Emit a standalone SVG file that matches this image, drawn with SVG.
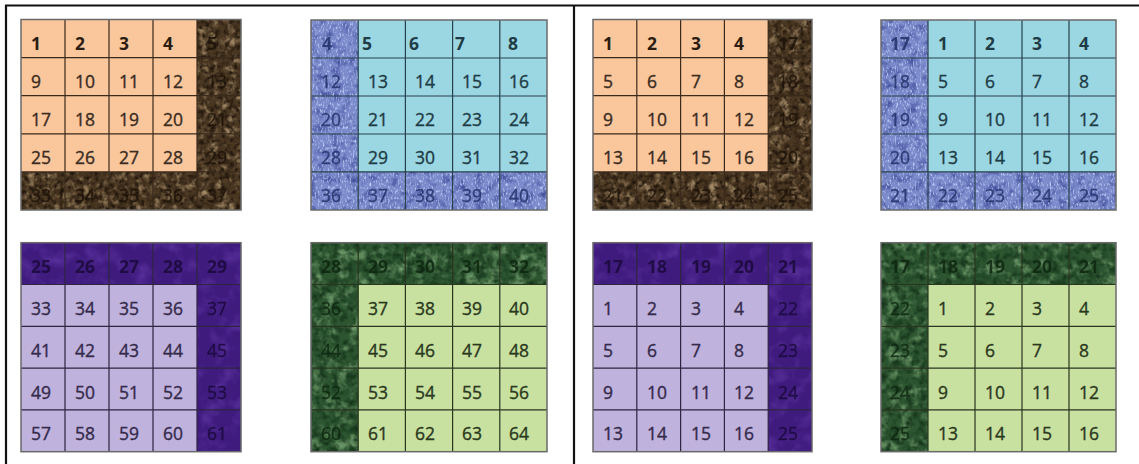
<svg xmlns="http://www.w3.org/2000/svg" width="1139" height="464" viewBox="0 0 1139 464">
<defs>
<style>
text{font-family:"Open Sans","Liberation Sans",sans-serif;font-size:17.5px;stroke-width:0.35px}
.b{font-weight:bold;stroke-width:0}
.frame{stroke:#111;stroke-width:2.2;fill:none}
.gl{fill:none;stroke-width:1.2}
.ob{fill:none;stroke:#6a6a6a;stroke-width:1.5}
.to{fill:#3a2c1f;stroke:#3a2c1f}.tbo{fill:#2a1c10}.dbr{fill:#1c1209;stroke:#1c1209;opacity:.85}
.tb{fill:#1f3c46;stroke:#1f3c46}.dbl{fill:#27356e;stroke:#27356e;opacity:.9}
.tp{fill:#352a4a;stroke:#352a4a}.dpu{fill:#1a0a3a;stroke:#1a0a3a;opacity:.85}
.tg{fill:#2b381d;stroke:#2b381d}.dgr{fill:#0e2610;stroke:#0e2610;opacity:.85}
</style>
<filter id="fBrown" x="0" y="0" width="1" height="1" color-interpolation-filters="sRGB">
<feTurbulence type="fractalNoise" baseFrequency="0.11" numOctaves="3" seed="4" result="n"/>
<feColorMatrix in="n" type="matrix" values="0 0 0 0 0.64  0 0 0 0 0.54  0 0 0 0 0.40  2.8 0 0 0 -1.3" result="c"/>
<feComposite in="c" in2="SourceGraphic" operator="in" result="cc"/>
<feTurbulence type="fractalNoise" baseFrequency="0.2" numOctaves="2" seed="9" result="n2"/>
<feColorMatrix in="n2" type="matrix" values="0 0 0 0 0.12  0 0 0 0 0.08  0 0 0 0 0.04  2.6 0 0 0 -1.1" result="d"/>
<feComposite in="d" in2="SourceGraphic" operator="in" result="dd"/>
<feMerge><feMergeNode in="SourceGraphic"/><feMergeNode in="cc"/><feMergeNode in="dd"/></feMerge>
</filter>
<filter id="fBlue" x="0" y="0" width="1" height="1" color-interpolation-filters="sRGB">
<feTurbulence type="fractalNoise" baseFrequency="0.6 0.3" numOctaves="2" seed="3" result="n"/>
<feColorMatrix in="n" type="matrix" values="0 0 0 0 0.82  0 0 0 0 0.86  0 0 0 0 1  2.6 0 0 0 -1.35" result="c"/>
<feComposite in="c" in2="SourceGraphic" operator="in" result="cc"/>
<feTurbulence type="fractalNoise" baseFrequency="0.12" numOctaves="2" seed="11" result="n2"/>
<feColorMatrix in="n2" type="matrix" values="0 0 0 0 0.25  0 0 0 0 0.3  0 0 0 0 0.6  2.2 0 0 0 -1" result="d"/>
<feComposite in="d" in2="SourceGraphic" operator="in" result="dd"/>
<feMerge><feMergeNode in="SourceGraphic"/><feMergeNode in="dd"/><feMergeNode in="cc"/></feMerge>
</filter>
<filter id="fPurple" x="0" y="0" width="1" height="1" color-interpolation-filters="sRGB">
<feTurbulence type="fractalNoise" baseFrequency="0.06" numOctaves="3" seed="5" result="n"/>
<feColorMatrix in="n" type="matrix" values="0 0 0 0 0.36  0 0 0 0 0.2  0 0 0 0 0.62  2 0 0 0 -0.9" result="c"/>
<feComposite in="c" in2="SourceGraphic" operator="in" result="cc"/>
<feMerge><feMergeNode in="SourceGraphic"/><feMergeNode in="cc"/></feMerge>
</filter>
<filter id="fGreen" x="0" y="0" width="1" height="1" color-interpolation-filters="sRGB">
<feTurbulence type="fractalNoise" baseFrequency="0.08" numOctaves="4" seed="7" result="n"/>
<feColorMatrix in="n" type="matrix" values="0 0 0 0 0.45  0 0 0 0 0.62  0 0 0 0 0.43  2.8 0 0 0 -1.3" result="c"/>
<feComposite in="c" in2="SourceGraphic" operator="in" result="cc"/>
<feTurbulence type="fractalNoise" baseFrequency="0.15" numOctaves="2" seed="13" result="n2"/>
<feColorMatrix in="n2" type="matrix" values="0 0 0 0 0.08  0 0 0 0 0.2  0 0 0 0 0.1  2.4 0 0 0 -1" result="d"/>
<feComposite in="d" in2="SourceGraphic" operator="in" result="dd"/>
<feMerge><feMergeNode in="SourceGraphic"/><feMergeNode in="cc"/><feMergeNode in="dd"/></feMerge>
</filter>
</defs>
<rect width="1139" height="464" fill="#ffffff"/>
<g id="frame">
<path class="frame" d="M6,464 V5.5 H1139 M574,5.5 V464"/>
</g>
<g id="grid1">
<rect x="21" y="19.5" width="220" height="190.5" fill="#FAC79D"/>
<path d="M197,19.5 H241 V210 H21 V171.9 H197 Z" fill="#4a3722" filter="url(#fBrown)"/>
<path class="gl" stroke="#3a2a1c" d="M65,19.5V210M109,19.5V210M153,19.5V210M197,19.5V210M21,57.6H241M21,95.7H241M21,133.8H241M21,171.9H241"/>
<rect class="ob" x="21" y="19.5" width="220" height="190.5"/>
<text class="b tbo" x="31" y="49.5">1</text><text class="b tbo" x="75" y="49.5">2</text><text class="b tbo" x="119" y="49.5">3</text><text class="b tbo" x="163" y="49.5">4</text><text class="b dbr" x="207" y="49.5">5</text>
<text class="to" x="31" y="87.6">9</text><text class="to" x="75" y="87.6">10</text><text class="to" x="119" y="87.6">11</text><text class="to" x="163" y="87.6">12</text><text class="dbr" x="207" y="87.6">13</text>
<text class="to" x="31" y="125.7">17</text><text class="to" x="75" y="125.7">18</text><text class="to" x="119" y="125.7">19</text><text class="to" x="163" y="125.7">20</text><text class="dbr" x="207" y="125.7">21</text>
<text class="to" x="31" y="163.8">25</text><text class="to" x="75" y="163.8">26</text><text class="to" x="119" y="163.8">27</text><text class="to" x="163" y="163.8">28</text><text class="dbr" x="207" y="163.8">29</text>
<text class="dbr" x="31" y="201.9">33</text><text class="dbr" x="75" y="201.9">34</text><text class="dbr" x="119" y="201.9">35</text><text class="dbr" x="163" y="201.9">36</text><text class="dbr" x="207" y="201.9">37</text>
</g>
<g id="grid2">
<rect x="311" y="20" width="236" height="190" fill="#9AD7E2"/>
<path d="M311,20 H358.2 V171.9 H547 V210 H311 Z" fill="#7a8acb" filter="url(#fBlue)"/>
<path class="gl" stroke="#27404c" d="M358.2,20V210M405.4,20V210M452.6,20V210M499.8,20V210M311,58H547M311,96H547M311,134H547M311,171.9H547"/>
<rect class="ob" x="311" y="20" width="236" height="190"/>
<text class="b dbl" x="322" y="50">4</text><text class="b tb" x="362" y="50">5</text><text class="b tb" x="409" y="50">6</text><text class="b tb" x="455" y="50">7</text><text class="b tb" x="508" y="50">8</text>
<text class="dbl" x="321" y="88">12</text><text class="tb" x="368" y="88">13</text><text class="tb" x="415" y="88">14</text><text class="tb" x="462" y="88">15</text><text class="tb" x="509" y="88">16</text>
<text class="dbl" x="321" y="126">20</text><text class="tb" x="368" y="126">21</text><text class="tb" x="415" y="126">22</text><text class="tb" x="462" y="126">23</text><text class="tb" x="509" y="126">24</text>
<text class="dbl" x="321" y="164">28</text><text class="tb" x="368" y="164">29</text><text class="tb" x="415" y="164">30</text><text class="tb" x="462" y="164">31</text><text class="tb" x="509" y="164">32</text>
<text class="dbl" x="321" y="202">36</text><text class="dbl" x="368" y="202">37</text><text class="dbl" x="415" y="202">38</text><text class="dbl" x="462" y="202">39</text><text class="dbl" x="509" y="202">40</text>
</g>
<g id="grid3">
<rect x="21" y="242.7" width="220" height="209" fill="#BFB2DD"/>
<path d="M21,242.7 H241 V451.7 H197 V284.5 H21 Z" fill="#3f1b7e" filter="url(#fPurple)"/>
<path class="gl" stroke="#2f2540" d="M65,242.7V451.7M109,242.7V451.7M153,242.7V451.7M197,242.7V451.7M21,284.5H241M21,326.3H241M21,368.1H241M21,409.9H241"/>
<rect class="ob" x="21" y="242.7" width="220" height="209"/>
<text class="b dpu" x="31" y="273.2">25</text><text class="b dpu" x="75" y="273.2">26</text><text class="b dpu" x="119" y="273.2">27</text><text class="b dpu" x="163" y="273.2">28</text><text class="b dpu" x="207" y="273.2">29</text>
<text class="tp" x="31" y="315">33</text><text class="tp" x="75" y="315">34</text><text class="tp" x="119" y="315">35</text><text class="tp" x="163" y="315">36</text><text class="dpu" x="207" y="315">37</text>
<text class="tp" x="31" y="356.8">41</text><text class="tp" x="75" y="356.8">42</text><text class="tp" x="119" y="356.8">43</text><text class="tp" x="163" y="356.8">44</text><text class="dpu" x="207" y="356.8">45</text>
<text class="tp" x="31" y="398.6">49</text><text class="tp" x="75" y="398.6">50</text><text class="tp" x="119" y="398.6">51</text><text class="tp" x="163" y="398.6">52</text><text class="dpu" x="207" y="398.6">53</text>
<text class="tp" x="31" y="440.4">57</text><text class="tp" x="75" y="440.4">58</text><text class="tp" x="119" y="440.4">59</text><text class="tp" x="163" y="440.4">60</text><text class="dpu" x="207" y="440.4">61</text>
</g>
<g id="grid4">
<rect x="311" y="242.7" width="236" height="209" fill="#C8E1A0"/>
<path d="M311,242.7 H547 V284.5 H358.2 V451.7 H311 Z" fill="#2c5530" filter="url(#fGreen)"/>
<path class="gl" stroke="#2a3520" d="M358.2,242.7V451.7M405.4,242.7V451.7M452.6,242.7V451.7M499.8,242.7V451.7M311,284.5H547M311,326.3H547M311,368.1H547M311,409.9H547"/>
<rect class="ob" x="311" y="242.7" width="236" height="209"/>
<text class="b dgr" x="321" y="273.2">28</text><text class="b dgr" x="368" y="273.2">29</text><text class="b dgr" x="415" y="273.2">30</text><text class="b dgr" x="462" y="273.2">31</text><text class="b dgr" x="509" y="273.2">32</text>
<text class="dgr" x="321" y="315">36</text><text class="tg" x="368" y="315">37</text><text class="tg" x="415" y="315">38</text><text class="tg" x="462" y="315">39</text><text class="tg" x="509" y="315">40</text>
<text class="dgr" x="321" y="356.8">44</text><text class="tg" x="368" y="356.8">45</text><text class="tg" x="415" y="356.8">46</text><text class="tg" x="462" y="356.8">47</text><text class="tg" x="509" y="356.8">48</text>
<text class="dgr" x="321" y="398.6">52</text><text class="tg" x="368" y="398.6">53</text><text class="tg" x="415" y="398.6">54</text><text class="tg" x="462" y="398.6">55</text><text class="tg" x="509" y="398.6">56</text>
<text class="dgr" x="321" y="440.4">60</text><text class="tg" x="368" y="440.4">61</text><text class="tg" x="415" y="440.4">62</text><text class="tg" x="462" y="440.4">63</text><text class="tg" x="509" y="440.4">64</text>
</g>
<g id="grid5">
<rect x="593" y="19.5" width="219" height="190.5" fill="#FAC79D"/>
<path d="M768.2,19.5 H812 V210 H593 V171.9 H768.2 Z" fill="#4a3722" filter="url(#fBrown)"/>
<path class="gl" stroke="#3a2a1c" d="M636.8,19.5V210M680.6,19.5V210M724.4,19.5V210M768.2,19.5V210M593,57.6H812M593,95.7H812M593,133.8H812M593,171.9H812"/>
<rect class="ob" x="593" y="19.5" width="219" height="190.5"/>
<text class="b tbo" x="603" y="49.5">1</text><text class="b tbo" x="647" y="49.5">2</text><text class="b tbo" x="691" y="49.5">3</text><text class="b tbo" x="734" y="49.5">4</text><text class="b dbr" x="778" y="49.5">17</text>
<text class="to" x="603" y="87.6">5</text><text class="to" x="647" y="87.6">6</text><text class="to" x="691" y="87.6">7</text><text class="to" x="734" y="87.6">8</text><text class="dbr" x="778" y="87.6">18</text>
<text class="to" x="603" y="125.7">9</text><text class="to" x="647" y="125.7">10</text><text class="to" x="691" y="125.7">11</text><text class="to" x="734" y="125.7">12</text><text class="dbr" x="778" y="125.7">19</text>
<text class="to" x="603" y="163.8">13</text><text class="to" x="647" y="163.8">14</text><text class="to" x="691" y="163.8">15</text><text class="to" x="734" y="163.8">16</text><text class="dbr" x="778" y="163.8">20</text>
<text class="dbr" x="603" y="201.9">21</text><text class="dbr" x="647" y="201.9">22</text><text class="dbr" x="691" y="201.9">23</text><text class="dbr" x="734" y="201.9">24</text><text class="dbr" x="778" y="201.9">25</text>
</g>
<g id="grid6">
<rect x="881" y="20" width="235" height="190" fill="#9AD7E2"/>
<path d="M881,20 H928 V171.9 H1116 V210 H881 Z" fill="#7a8acb" filter="url(#fBlue)"/>
<path class="gl" stroke="#27404c" d="M928,20V210M975,20V210M1022,20V210M1069,20V210M881,58H1116M881,96H1116M881,134H1116M881,171.9H1116"/>
<rect class="ob" x="881" y="20" width="235" height="190"/>
<text class="b dbl" x="890" y="50">17</text><text class="b tb" x="938" y="50">1</text><text class="b tb" x="985" y="50">2</text><text class="b tb" x="1032" y="50">3</text><text class="b tb" x="1079" y="50">4</text>
<text class="dbl" x="890" y="88">18</text><text class="tb" x="938" y="88">5</text><text class="tb" x="985" y="88">6</text><text class="tb" x="1032" y="88">7</text><text class="tb" x="1079" y="88">8</text>
<text class="dbl" x="890" y="126">19</text><text class="tb" x="938" y="126">9</text><text class="tb" x="985" y="126">10</text><text class="tb" x="1032" y="126">11</text><text class="tb" x="1079" y="126">12</text>
<text class="dbl" x="890" y="164">20</text><text class="tb" x="938" y="164">13</text><text class="tb" x="985" y="164">14</text><text class="tb" x="1032" y="164">15</text><text class="tb" x="1079" y="164">16</text>
<text class="dbl" x="890" y="202">21</text><text class="dbl" x="938" y="202">22</text><text class="dbl" x="985" y="202">23</text><text class="dbl" x="1032" y="202">24</text><text class="dbl" x="1079" y="202">25</text>
</g>
<g id="grid7">
<rect x="593" y="242.7" width="219" height="209" fill="#BFB2DD"/>
<path d="M593,242.7 H812 V451.7 H768.2 V284.5 H593 Z" fill="#3f1b7e" filter="url(#fPurple)"/>
<path class="gl" stroke="#2f2540" d="M636.8,242.7V451.7M680.6,242.7V451.7M724.4,242.7V451.7M768.2,242.7V451.7M593,284.5H812M593,326.3H812M593,368.1H812M593,409.9H812"/>
<rect class="ob" x="593" y="242.7" width="219" height="209"/>
<text class="b dpu" x="603" y="273.2">17</text><text class="b dpu" x="647" y="273.2">18</text><text class="b dpu" x="691" y="273.2">19</text><text class="b dpu" x="734" y="273.2">20</text><text class="b dpu" x="778" y="273.2">21</text>
<text class="tp" x="603" y="315">1</text><text class="tp" x="647" y="315">2</text><text class="tp" x="691" y="315">3</text><text class="tp" x="734" y="315">4</text><text class="dpu" x="778" y="315">22</text>
<text class="tp" x="603" y="356.8">5</text><text class="tp" x="647" y="356.8">6</text><text class="tp" x="691" y="356.8">7</text><text class="tp" x="734" y="356.8">8</text><text class="dpu" x="778" y="356.8">23</text>
<text class="tp" x="603" y="398.6">9</text><text class="tp" x="647" y="398.6">10</text><text class="tp" x="691" y="398.6">11</text><text class="tp" x="734" y="398.6">12</text><text class="dpu" x="778" y="398.6">24</text>
<text class="tp" x="603" y="440.4">13</text><text class="tp" x="647" y="440.4">14</text><text class="tp" x="691" y="440.4">15</text><text class="tp" x="734" y="440.4">16</text><text class="dpu" x="778" y="440.4">25</text>
</g>
<g id="grid8">
<rect x="881" y="242.7" width="235" height="209" fill="#C8E1A0"/>
<path d="M881,242.7 H1116 V284.5 H928 V451.7 H881 Z" fill="#2c5530" filter="url(#fGreen)"/>
<path class="gl" stroke="#2a3520" d="M928,242.7V451.7M975,242.7V451.7M1022,242.7V451.7M1069,242.7V451.7M881,284.5H1116M881,326.3H1116M881,368.1H1116M881,409.9H1116"/>
<rect class="ob" x="881" y="242.7" width="235" height="209"/>
<text class="b dgr" x="890" y="273.2">17</text><text class="b dgr" x="938" y="273.2">18</text><text class="b dgr" x="985" y="273.2">19</text><text class="b dgr" x="1032" y="273.2">20</text><text class="b dgr" x="1079" y="273.2">21</text>
<text class="dgr" x="890" y="315">22</text><text class="tg" x="938" y="315">1</text><text class="tg" x="985" y="315">2</text><text class="tg" x="1032" y="315">3</text><text class="tg" x="1079" y="315">4</text>
<text class="dgr" x="890" y="356.8">23</text><text class="tg" x="938" y="356.8">5</text><text class="tg" x="985" y="356.8">6</text><text class="tg" x="1032" y="356.8">7</text><text class="tg" x="1079" y="356.8">8</text>
<text class="dgr" x="890" y="398.6">24</text><text class="tg" x="938" y="398.6">9</text><text class="tg" x="985" y="398.6">10</text><text class="tg" x="1032" y="398.6">11</text><text class="tg" x="1079" y="398.6">12</text>
<text class="dgr" x="890" y="440.4">25</text><text class="tg" x="938" y="440.4">13</text><text class="tg" x="985" y="440.4">14</text><text class="tg" x="1032" y="440.4">15</text><text class="tg" x="1079" y="440.4">16</text>
</g>
<g id="connectors"/>
</svg>
